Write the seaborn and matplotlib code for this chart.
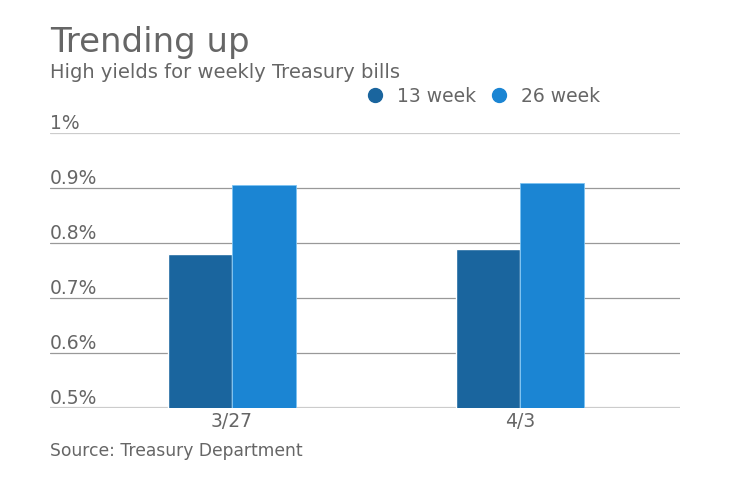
import matplotlib
matplotlib.use("Agg")
import matplotlib.pyplot as plt
from matplotlib.lines import Line2D
import pandas as pd
import seaborn as sns

dates = ["3/27", "4/3"]
week13 = [0.780, 0.790]
week26 = [0.905, 0.910]
series = ["13 week", "26 week"]
colors = ["#1a659e", "#1b85d3"]
yticks = [0.5, 0.6, 0.7, 0.8, 0.9, 1.0]
ytick_labels = ["0.5%", "0.6%", "0.7%", "0.8%", "0.9%", "1%"]

df = pd.DataFrame({
    "date": dates * 2,
    "series": [series[0]] * 2 + [series[1]] * 2,
    "value": week13 + week26,
})

sns.set_style("white")
plt.rcParams["font.family"] = ["DejaVu Sans"]
grey = "#666666"

fig = plt.figure(figsize=(7.4, 4.82), dpi=100)
ax = fig.add_axes([50 / 740, 1 - 408 / 482, 630 / 740, 275 / 482])

sns.barplot(data=df, x="date", y="value", hue="series", palette=colors,
            width=0.444, saturation=1, ax=ax, legend=False, zorder=3)
for p in ax.patches[2:]:
    p.set_edgecolor("#7cc3f2")
    p.set_linewidth(0.6)

ax.set_ylim(0.5, 1.0)
ax.set_xlim(-0.632, 1.556)
ax.set_yticks(yticks)
ax.set_yticklabels([])
ax.tick_params(axis="y", length=0)
ax.tick_params(axis="x", length=0, labelsize=13.5, labelcolor=grey, pad=3)
for v, lab in zip(yticks, ytick_labels):
    ax.axhline(v, color="#cccccc" if v in (0.5, 1.0) else "#999999",
               lw=1.6 if v == 0.5 else 0.9, zorder=1)
    ax.text(0, v + 0.008, lab, transform=ax.get_yaxis_transform(),
            ha="left", va="baseline", fontsize=13.5, color=grey)
for s in ax.spines.values():
    s.set_visible(False)
ax.set_xlabel("")
ax.set_ylabel("")

fig.text(50 / 740, 1 - 52 / 482, "Trending up", fontsize=24.5, color=grey,
         va="baseline")
fig.text(50 / 740, 1 - 78 / 482, "High yields for weekly Treasury bills",
         fontsize=14, color=grey, va="baseline")
fig.text(50 / 740, 1 - 456 / 482, "Source: Treasury Department",
         fontsize=12.3, color=grey, va="baseline")

handles = [Line2D([], [], marker="o", ls="", markersize=10, color=c) for c in colors]
fig.legend(handles, series, loc="center left", bbox_to_anchor=(349 / 740, 1 - 96 / 482),
           ncol=2, frameon=False, fontsize=13.5, labelcolor=grey,
           handletextpad=0.15, columnspacing=0.25, borderaxespad=0)

fig.savefig("out.png", dpi=100)
